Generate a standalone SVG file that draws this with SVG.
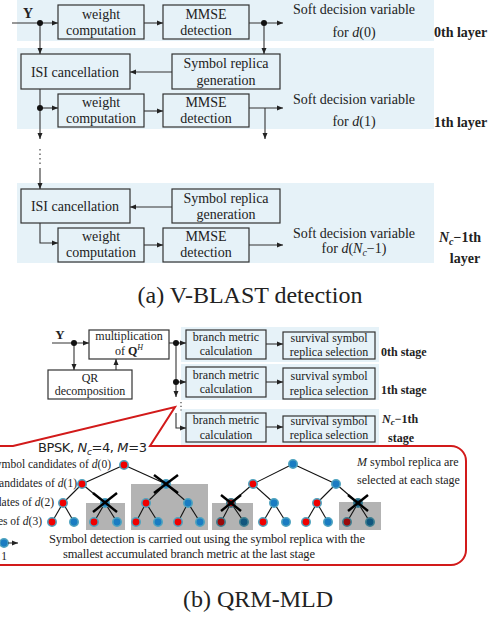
<svg xmlns="http://www.w3.org/2000/svg" width="500" height="618" viewBox="0 0 500 618">
<defs>
<style>
.band{fill:#e6f2f8}
.box{fill:none;stroke:#333;stroke-width:1.2}
.t{font-family:"Liberation Serif","Times New Roman",serif;font-size:14px;fill:#222;text-anchor:middle}
.s{font-size:12px}
.st{text-anchor:start}
.en{text-anchor:end}
.bd{font-weight:bold}
.it{font-style:italic}
.c line,.c path{fill:none;stroke:#333;stroke-width:1.1}
.ar{marker-end:url(#ah)}
.dot{fill:#111}
.ed line{stroke:#111;stroke-width:1.1}
.nr{fill:#f00000;stroke:#4fa3bf;stroke-width:1.6}
.nb{fill:#1a7cc2;stroke:#4fa3bf;stroke-width:1.6}
.ndr{fill:#9a0a0a;stroke:#3f7f90;stroke-width:1.6}
.ndb{fill:#10567e;stroke:#3f7f90;stroke-width:1.6}
.x line{stroke:#000;stroke-width:2.4}
.gr{fill:#b3b3b3}
</style>
<marker id="ah" viewBox="0 0 6 6" refX="6" refY="3" markerWidth="6" markerHeight="6" markerUnits="userSpaceOnUse" orient="auto"><path d="M0,0.5 L6,3 L0,5.5 z" fill="#222"/></marker>
</defs>

<!-- (a) bands -->
<rect class="band" x="17" y="0" width="417" height="41"/>
<rect class="band" x="17" y="48" width="417" height="81"/>
<rect class="band" x="17" y="183" width="417" height="80"/>

<text class="t bd" x="28" y="18">Y</text>

<g id="w0"><rect class="box" x="58" y="5" width="86" height="34"/><text class="t" x="101" y="19">weight</text><text class="t" x="101" y="35">computation</text></g>
<g id="m0"><rect class="box" x="163" y="5" width="86" height="34"/><text class="t" x="206" y="19">MMSE</text><text class="t" x="206" y="35">detection</text></g>
<g id="out0"><text class="t" x="354" y="14">Soft decision variable</text><text class="t" x="354" y="37">for <tspan class="it">d</tspan>(0)</text><text class="t bd st" x="434" y="37">0th layer</text></g>

<g id="isi1"><rect class="box" x="21" y="54" width="109" height="35"/><text class="t" x="75" y="77">ISI cancellation</text></g>
<g id="sr1"><rect class="box" x="172" y="54" width="108" height="35"/><text class="t" x="226" y="68">Symbol replica</text><text class="t" x="226" y="85">generation</text></g>
<g id="w1"><rect class="box" x="58" y="94" width="86" height="33"/><text class="t" x="101" y="107">weight</text><text class="t" x="101" y="123">computation</text></g>
<g id="m1"><rect class="box" x="163" y="94" width="86" height="33"/><text class="t" x="206" y="107">MMSE</text><text class="t" x="206" y="123">detection</text></g>
<g id="out1"><text class="t" x="354" y="104">Soft decision variable</text><text class="t" x="354" y="126">for <tspan class="it">d</tspan>(1)</text><text class="t bd st" x="434" y="127">1th layer</text></g>

<g id="isi2"><rect class="box" x="21" y="189" width="109" height="34"/><text class="t" x="75" y="211">ISI cancellation</text></g>
<g id="sr2"><rect class="box" x="172" y="189" width="108" height="34"/><text class="t" x="226" y="203">Symbol replica</text><text class="t" x="226" y="219">generation</text></g>
<g id="w2"><rect class="box" x="58" y="228" width="86" height="34"/><text class="t" x="101" y="241">weight</text><text class="t" x="101" y="257">computation</text></g>
<g id="m2"><rect class="box" x="163" y="228" width="86" height="34"/><text class="t" x="206" y="241">MMSE</text><text class="t" x="206" y="257">detection</text></g>
<g id="out2"><text class="t" x="354" y="238">Soft decision variable</text><text class="t" x="354" y="253">for <tspan class="it">d</tspan>(<tspan class="it">N</tspan><tspan class="it" font-size="10" dy="3">c</tspan><tspan dy="-3">−1)</tspan></text>
<text class="t bd" x="460" y="242"><tspan class="it">N</tspan><tspan class="it" font-size="10" dy="3">c</tspan><tspan dy="-3">−1th</tspan></text><text class="t bd" x="465" y="263">layer</text></g>

<text class="t" x="250" y="303" style="font-size:24px">(a) V-BLAST detection</text>

<!-- (a) connectors -->
<g id="conn-a" class="c">
<line class="ar" x1="12" y1="23" x2="58" y2="23"/>
<line class="ar" x1="144" y1="23" x2="163" y2="23"/>
<line class="ar" x1="249" y1="23" x2="283" y2="23"/>
<line class="ar" x1="264" y1="23" x2="264" y2="54"/>
<line class="ar" x1="40" y1="23" x2="40" y2="54"/>
<line class="ar" x1="172" y1="72" x2="130" y2="72"/>
<line class="ar" x1="40" y1="89" x2="40" y2="139"/>
<line class="ar" x1="40" y1="108" x2="58" y2="108"/>
<line class="ar" x1="144" y1="111" x2="163" y2="111"/>
<line class="ar" x1="249" y1="108" x2="283" y2="108"/>
<line class="ar" x1="265" y1="108" x2="265" y2="139"/>
<line x1="40" y1="149" x2="40" y2="165" stroke-dasharray="1.5,3"/>
<line class="ar" x1="40" y1="168" x2="40" y2="189"/>
<line class="ar" x1="172" y1="207" x2="130" y2="207"/>
<path class="ar" d="M40,223 V243 H58"/>
<line class="ar" x1="144" y1="245" x2="163" y2="245"/>
<line class="ar" x1="249" y1="245" x2="283" y2="245"/>
<circle class="dot" cx="40" cy="23" r="3"/>
<circle class="dot" cx="264" cy="23" r="3"/>
<circle class="dot" cx="40" cy="108" r="3"/>
</g>

<!-- (b) bands -->
<rect class="band" x="181" y="327" width="198" height="35"/>
<rect class="band" x="181" y="364" width="198" height="36"/>
<rect class="band" x="181" y="409" width="198" height="36"/>

<text class="t bd" x="60" y="339" style="font-size:13px">Y</text>

<g id="mult"><rect class="box" x="89" y="330" width="80" height="29"/><text class="t s" x="129" y="340">multiplication</text><text class="t s" x="129" y="355">of <tspan class="bd">Q</tspan><tspan class="it" font-size="8" dy="-5">H</tspan></text></g>
<g id="qr"><rect class="box" x="48" y="370" width="84" height="29"/><text class="t s" x="90" y="382">QR</text><text class="t s" x="90" y="395">decomposition</text></g>
<g id="br1"><rect class="box" x="186" y="330" width="80" height="29"/><text class="t s" x="226" y="341">branch metric</text><text class="t s" x="226" y="355">calculation</text></g>
<g id="br2"><rect class="box" x="186" y="367" width="80" height="30"/><text class="t s" x="226" y="379">branch metric</text><text class="t s" x="226" y="393">calculation</text></g>
<g id="br3"><rect class="box" x="186" y="413" width="80" height="29"/><text class="t s" x="226" y="424">branch metric</text><text class="t s" x="226" y="439">calculation</text></g>
<g id="sv1"><rect class="box" x="283" y="332" width="92" height="27"/><text class="t s" x="329" y="342">survival symbol</text><text class="t s" x="329" y="356">replica selection</text></g>
<g id="sv2"><rect class="box" x="283" y="368" width="92" height="31"/><text class="t s" x="329" y="380">survival symbol</text><text class="t s" x="329" y="395">replica selection</text></g>
<g id="sv3"><rect class="box" x="283" y="416" width="92" height="26"/><text class="t s" x="329" y="425">survival symbol</text><text class="t s" x="329" y="439">replica selection</text></g>
<text class="t s bd st" x="381" y="356">0th stage</text>
<text class="t s bd st" x="381" y="394">1th stage</text>
<text class="t s bd st" x="382" y="423"><tspan class="it">N</tspan><tspan class="it" font-size="9" dy="2">c</tspan><tspan dy="-2">−1th</tspan></text>
<text class="t s bd st" x="388" y="442">stage</text>

<!-- (b) connectors -->
<g id="conn-b" class="c">
<line class="ar" x1="52" y1="343" x2="89" y2="343"/>
<line class="ar" x1="74" y1="343" x2="74" y2="370"/>
<line class="ar" x1="116" y1="370" x2="116" y2="359"/>
<line class="ar" x1="169" y1="343" x2="186" y2="343"/>
<line class="ar" x1="176" y1="343" x2="176" y2="397"/>
<line class="ar" x1="176" y1="382" x2="186" y2="382"/>
<line x1="181" y1="402" x2="181" y2="411" stroke-dasharray="1.2,2.5"/>
<path class="ar" d="M176,413 V428 H186"/>
<line class="ar" x1="266" y1="344" x2="283" y2="344"/>
<line class="ar" x1="266" y1="382" x2="283" y2="382"/>
<line class="ar" x1="266" y1="427" x2="283" y2="427"/>
<circle class="dot" cx="74" cy="343" r="3"/>
<circle class="dot" cx="176" cy="343" r="3"/>
<circle class="dot" cx="176" cy="382" r="3"/>
</g>

<!-- callout -->
<path d="M-20,446 H13 L175,407 L150,446 H451 A15,15 0 0 1 466,461 V550 A15,15 0 0 1 451,565 H-20" fill="none" stroke="#d21a1a" stroke-width="2"/>
<text x="38" y="452" style="font-family:'DejaVu Sans',sans-serif;font-size:13px;fill:#222" textLength="109">BPSK, <tspan font-style="italic">N</tspan><tspan font-style="italic" font-size="9" dy="3">c</tspan><tspan dy="-3">=4, </tspan><tspan font-style="italic">M</tspan>=3</text>

<g class="t" style="font-size:11.5px">
<text class="en" x="111" y="468">Symbol candidates of <tspan class="it">d</tspan>(0)</text>
<text class="en" x="77" y="487">Symbol candidates of <tspan class="it">d</tspan>(1)</text>
<text class="en" x="54" y="506">Symbol candidates of <tspan class="it">d</tspan>(2)</text>
<text class="en" x="42" y="525">Symbol candidates of <tspan class="it">d</tspan>(3)</text>
<text class="st" x="357" y="466" style="font-size:12px"><tspan class="it">M</tspan> symbol replica are</text>
<text class="st" x="357" y="484" style="font-size:12px">selected at each stage</text>
<text class="st" x="49" y="543" style="font-size:12.5px" textLength="316">Symbol detection is carried out using the symbol replica with the</text>
<text class="st" x="63" y="558" style="font-size:12.5px" textLength="252">smallest accumulated branch metric at the last stage</text>
<text x="4" y="560">1</text>
</g>

<!-- gray boxes -->
<rect class="gr" x="86" y="503" width="39" height="27"/>
<rect class="gr" x="131" y="484" width="77" height="46"/>
<rect class="gr" x="212" y="503" width="41" height="27"/>
<rect class="gr" x="339" y="502" width="42" height="28"/>

<!-- tree edges -->
<g class="ed">
<line x1="124" y1="465" x2="82" y2="484"/><line x1="124" y1="465" x2="166" y2="484"/>
<line x1="82" y1="484" x2="63" y2="503"/><line x1="82" y1="484" x2="105" y2="503"/>
<line x1="166" y1="484" x2="146" y2="503"/><line x1="166" y1="484" x2="188" y2="503"/>
<line x1="63" y1="503" x2="52" y2="522"/><line x1="63" y1="503" x2="74" y2="522"/>
<line x1="105" y1="503" x2="94" y2="522"/><line x1="105" y1="503" x2="117" y2="522"/>
<line x1="146" y1="503" x2="136" y2="522"/><line x1="146" y1="503" x2="158" y2="522"/>
<line x1="188" y1="503" x2="178" y2="522"/><line x1="188" y1="503" x2="200" y2="522"/>
<line x1="293" y1="464" x2="253" y2="484"/><line x1="293" y1="464" x2="336" y2="484"/>
<line x1="253" y1="484" x2="231" y2="503"/><line x1="253" y1="484" x2="274" y2="503"/>
<line x1="336" y1="484" x2="317" y2="503"/><line x1="336" y1="484" x2="358" y2="503"/>
<line x1="231" y1="503" x2="221" y2="522"/><line x1="231" y1="503" x2="244" y2="522"/>
<line x1="274" y1="503" x2="263" y2="522"/><line x1="274" y1="503" x2="286" y2="522"/>
<line x1="317" y1="503" x2="306" y2="522"/><line x1="317" y1="503" x2="328" y2="522"/>
<line x1="358" y1="503" x2="347" y2="522"/><line x1="358" y1="503" x2="370" y2="522"/>
</g>

<!-- tree nodes -->
<g id="tree1">
<circle class="nr" cx="124" cy="465" r="4.2"/>
<circle class="nr" cx="82" cy="484" r="4.2"/><circle class="nb" cx="166" cy="484" r="4.2"/>
<circle class="nr" cx="63" cy="503" r="4.2"/><circle class="nb" cx="105" cy="503" r="4.2"/>
<circle class="nr" cx="146" cy="503" r="4.2"/><circle class="nb" cx="188" cy="503" r="4.2"/>
<circle class="nr" cx="52" cy="522" r="4.2"/><circle class="nb" cx="74" cy="522" r="4.2"/>
<circle class="nr" cx="94" cy="522" r="4.2"/><circle class="nb" cx="117" cy="522" r="4.2"/>
<circle class="nr" cx="136" cy="522" r="4.2"/><circle class="nb" cx="158" cy="522" r="4.2"/>
<circle class="nr" cx="178" cy="522" r="4.2"/><circle class="nb" cx="200" cy="522" r="4.2"/>
</g>
<g id="tree2">
<circle class="nb" cx="293" cy="464" r="4.2"/>
<circle class="nr" cx="253" cy="484" r="4.2"/><circle class="nb" cx="336" cy="484" r="4.2"/>
<circle class="ndr" cx="231" cy="503" r="4.2"/><circle class="nb" cx="274" cy="503" r="4.2"/>
<circle class="nr" cx="317" cy="503" r="4.2"/><circle class="ndb" cx="358" cy="503" r="4.2"/>
<circle class="ndr" cx="221" cy="522" r="4.2"/><circle class="ndb" cx="244" cy="522" r="4.2"/>
<circle class="nr" cx="263" cy="522" r="4.2"/><circle class="nb" cx="286" cy="522" r="4.2"/>
<circle class="nr" cx="306" cy="522" r="4.2"/><circle class="nb" cx="328" cy="522" r="4.2"/>
<circle class="ndr" cx="347" cy="522" r="4.2"/><circle class="ndb" cx="370" cy="522" r="4.2"/>
</g>
<g id="legend">
<circle class="nb" cx="4" cy="543" r="4.2"/>
<line x1="8" y1="543" x2="18" y2="543" stroke="#333" stroke-width="1.1" marker-end="url(#ah)"/>
</g>

<!-- crosses -->
<g class="x">
<line x1="93" y1="493" x2="117" y2="512"/><line x1="117" y1="493" x2="93" y2="512"/>
<line x1="154" y1="475" x2="178" y2="493"/><line x1="178" y1="475" x2="154" y2="493"/>
<line x1="221" y1="495" x2="241" y2="511"/><line x1="241" y1="495" x2="221" y2="511"/>
<line x1="348" y1="495" x2="368" y2="511"/><line x1="368" y1="495" x2="348" y2="511"/>
</g>

<text class="t" x="258" y="607" style="font-size:24px">(b) QRM-MLD</text>
</svg>
